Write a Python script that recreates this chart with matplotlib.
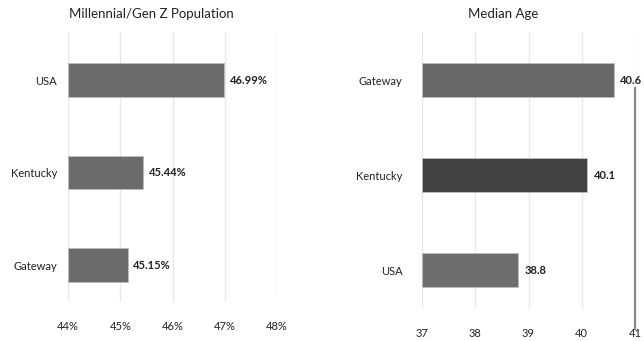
import numpy as np
import matplotlib.pyplot as plt

plt.rcParams['font.family'] = ['Lato', 'DejaVu Sans']

gen_labels = ["USA", "Kentucky", "Gateway"]
gen_values = [46.99, 45.44, 45.15]
gen_ticks = [44, 45, 46, 47, 48]

age_labels = ["Gateway", "Kentucky", "USA"]
age_values = [40.6, 40.1, 38.8]
age_colors = ["#686868", "#424242", "#6e6e6e"]
age_ticks = [37, 38, 39, 40, 41]

GRID = "#e8e8e8"
TXT = "#222222"

fig = plt.figure(figsize=(6.44, 3.41), dpi=100)
W, H = 644, 341

def px_axes(x0, x1, y0, y1):
    return fig.add_axes([x0 / W, 1 - y1 / H, (x1 - x0) / W, (y1 - y0) / H])

def style(ax, ticks, fmt, tick_pad):
    for s in ax.spines.values():
        s.set_visible(False)
    ax.set_xticks(ticks)
    ax.set_xticklabels([fmt(t) for t in ticks], fontsize=8, color=TXT)
    ax.tick_params(axis="x", length=0, pad=tick_pad)
    ax.tick_params(axis="y", length=0, labelsize=8, labelcolor=TXT)
    ax.grid(axis="x", color=GRID, linewidth=1)
    ax.set_axisbelow(True)

# ── left: Millennial/Gen Z ──
ax1 = px_axes(68, 277, 32, 302)
y1 = np.arange(len(gen_labels))
ax1.barh(y1, [v - gen_ticks[0] for v in gen_values], left=gen_ticks[0],
         height=0.36, color="#6b6b6b", edgecolor="#bdbdbd", linewidth=0.6)
ax1.set_xlim(gen_ticks[0], gen_ticks[-1])
ax1.set_ylim(2.4, -0.52)
ax1.set_yticks(y1)
ax1.set_yticklabels(gen_labels)
ax1.tick_params(axis="y", pad=8)
style(ax1, gen_ticks, lambda t: f"{t}%", 13.5)
for y, v in zip(y1, gen_values):
    ax1.text(v + 0.1, y, f"{v:.2f}%", va="center", ha="left",
             fontsize=8, fontweight="bold", color=TXT)
fig.text(151 / W, 1 - 14 / H, "Millennial/Gen Z Population",
         ha="center", va="center", fontsize=9.5, color=TXT)

# ── right: Median Age ──
ax2 = px_axes(422, 635, 32, 308)
y2 = np.arange(len(age_labels))
ax2.barh(y2, [v - age_ticks[0] for v in age_values], left=age_ticks[0],
         height=0.36, color=age_colors, edgecolor="#bdbdbd", linewidth=0.6)
ax2.set_xlim(age_ticks[0], age_ticks[-1])
ax2.set_ylim(2.4, -0.51)
ax2.set_yticks(y2)
ax2.set_yticklabels(age_labels)
ax2.tick_params(axis="y", pad=14)
style(ax2, age_ticks, lambda t: f"{t}", 14.5)
ax2.plot([age_ticks[-1], age_ticks[-1]], [0.08, 2.62], color="#8a8a8a",
         linewidth=1.6, clip_on=False)
for y, v in zip(y2, age_values):
    ax2.text(v + 0.12, y, f"{v:.1f}", va="center", ha="left",
             fontsize=8, fontweight="bold", color=TXT)
fig.text(503 / W, 1 - 14 / H, "Median Age",
         ha="center", va="center", fontsize=9.5, color=TXT)

fig.savefig("out.png", dpi=100, facecolor="white")
